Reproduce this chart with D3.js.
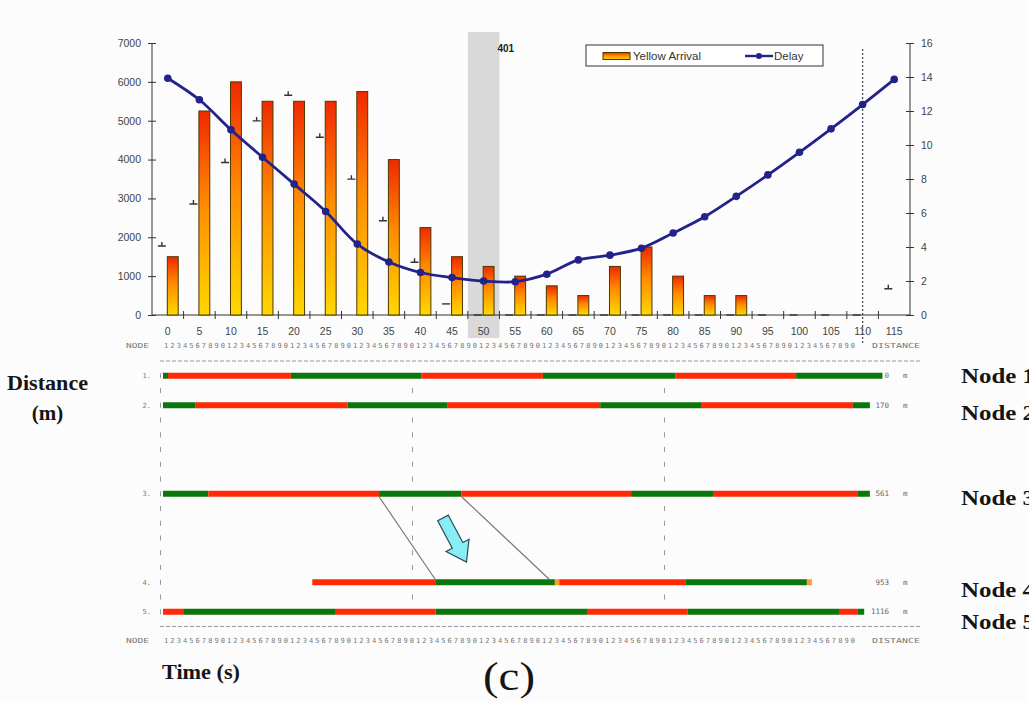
<!DOCTYPE html>
<html>
<head>
<meta charset="utf-8">
<script src="https://cdn.jsdelivr.net/npm/d3@7"></script>
<style>
  body { margin: 0; background: #fcfcfc; }
  svg { display: block; }
</style>
</head>
<body>
<svg id="chart" width="1029" height="702"></svg>
<script>
// ---- Upper panel: yellow arrivals and delay by offset (s) ----
const categories = ["0","5","10","15","20","25","30","35","40","45","50","55",
                    "60","65","70","75","80","85","90","95","100","105","110","115"];
const yellowArrival = [1500,5250,6000,5500,5500,5500,5750,4000,2250,1500,1250,1000,
                       750,500,1250,1750,1000,500,500,0,0,0,0,0];
const delay = [13.93,12.66,10.9,9.28,7.7,6.09,4.17,3.12,2.5,2.2,2.0,1.96,
               2.4,3.24,3.52,3.93,4.82,5.78,6.98,8.24,9.57,10.95,12.38,13.86];
const queueMarks = [1750,2830,3900,4970,5630,4550,3470,2400,1330,260,0,0,
                    0,0,0,0,0,0,0,0,0,0,0,650];
const leftTicks = [0,1000,2000,3000,4000,5000,6000,7000];
const rightTicks = [0,2,4,6,8,10,12,14,16];
const highlightCategory = "50";
const highlightLabel = "401";
const cycleMarkCategory = "110";
const legendLabels = ["Yellow Arrival","Delay"];

// ---- Lower panel: time-space diagram ----
const nodeIds = ["1.","2.","3.","4.","5."];
const nodeNames = ["Node 1","Node 2","Node 3","Node 4","Node 5"];
const nodeDistance = [0,170,561,953,1116];
// signal states per node: [start s, end s, state]  G = green, R = red, A = amber
const signalPhases = [
  [[0,0.8,"G"],[0.8,20.3,"R"],[20.3,41,"G"],[41,60.3,"R"],[60.3,81.3,"G"],[81.3,100.5,"R"],[100.5,114.2,"G"]],
  [[0,5.1,"G"],[5.1,29.3,"R"],[29.3,45.2,"G"],[45.2,69.4,"R"],[69.4,85.4,"G"],[85.4,109.5,"R"],[109.5,112.2,"G"]],
  [[0,7.2,"G"],[7.2,34.3,"R"],[34.3,47.4,"G"],[47.4,74.3,"R"],[74.3,87.3,"G"],[87.3,110.3,"R"],[110.3,112.2,"G"]],
  [[23.7,43.2,"R"],[43.2,62.2,"G"],[62.2,62.9,"A"],[62.9,83,"R"],[83,102.2,"G"],[102.2,103,"A"]],
  [[0,3.2,"R"],[3.2,27.3,"G"],[27.3,43.3,"R"],[43.3,67.3,"G"],[67.3,83.3,"R"],[83.3,107.3,"G"],[107.3,110.2,"R"],[110.2,111.3,"G"]]
];
// green-wave band edges between node 3 and node 4: [time at node 3, time at node 4]
const bandFrom = 2, bandTo = 3;
const bandEdges = [[34.3,43.2],[47.4,61.3]];
const gridTimes = [0,40,80];
const rulerLength = 110;      // seconds shown on the NODE ruler
const metresPerRow = 70;      // distance covered by one text row of the diagram
const totalRows = 18;

const svg = d3.select("#chart");
const defs = svg.append("defs");
const grad = defs.append("linearGradient").attr("id","arrivalFill")
  .attr("x1",0).attr("y1",0).attr("x2",0).attr("y2",1);
grad.append("stop").attr("offset","0%").attr("stop-color","#f02800");
grad.append("stop").attr("offset","45%").attr("stop-color","#ff8a00");
grad.append("stop").attr("offset","100%").attr("stop-color","#ffd800");

const sans = "'Liberation Sans', Arial, sans-serif";
const serif = "'Liberation Serif', 'Times New Roman', serif";

// ===== Upper chart =====
const x = d3.scaleBand().domain(categories).range([152, 910]).padding(0);
const bw = x.bandwidth();
const xs = d3.scaleBand().domain(["queue","arrival"]).range([bw*0.14, bw*0.83]);
const yL = d3.scaleLinear().domain([0,7000]).range([315, 43]);
const yR = d3.scaleLinear().domain([0,16]).range([315, 43]);

// highlighted offset column
svg.append("rect")
  .attr("x", x(highlightCategory)).attr("width", bw)
  .attr("y", yL(7000) - 11).attr("height", yL(0) - yL(7000) + 34)
  .attr("fill", "#d9d9d9");
svg.append("text").text(highlightLabel)
  .attr("x", x(highlightCategory) + bw - 2).attr("y", 52)
  .attr("font-family", sans).attr("font-size", 10).attr("font-weight", "bold")
  .attr("fill", "#222");

// cycle marker (dotted)
svg.append("line")
  .attr("x1", x(cycleMarkCategory) + bw/2).attr("x2", x(cycleMarkCategory) + bw/2)
  .attr("y1", 49).attr("y2", 344)
  .attr("stroke", "#444").attr("stroke-width", 1.2).attr("stroke-dasharray", "2,2");

// left axis
const gL = svg.append("g").attr("transform", "translate(152,0)")
  .call(d3.axisLeft(yL).tickValues(leftTicks).tickFormat(d3.format("d")).tickSize(4).tickPadding(7));
gL.selectAll(".tick line").attr("x1", -4).attr("x2", 4).attr("stroke", "#333");
gL.select(".domain").attr("stroke", "#333").attr("d", `M0,${yL(7000)}V${yL(0)}`);
gL.selectAll("text").attr("font-family", sans).attr("font-size", 10.5).attr("fill", "#444");

// right axis
const gR = svg.append("g").attr("transform", "translate(910,0)")
  .call(d3.axisRight(yR).tickValues(rightTicks).tickSize(4).tickPadding(7));
gR.selectAll(".tick line").attr("x1", -4).attr("x2", 4).attr("stroke", "#333");
gR.select(".domain").attr("stroke", "#333").attr("d", `M0,${yR(16)}V${yR(0)}`);
gR.selectAll("text").attr("font-family", sans).attr("font-size", 10.5).attr("fill", "#444");

// bottom axis: line, boundary ticks, category labels
svg.append("line").attr("x1", 152).attr("x2", 910).attr("y1", yL(0)).attr("y2", yL(0))
  .attr("stroke", "#333").attr("stroke-width", 1.2);
const edges = categories.map(c => x(c)).concat([x(categories[categories.length-1]) + bw]);
svg.append("g").selectAll("line").data(edges.slice(1, -1)).join("line")
  .attr("x1", d => d).attr("x2", d => d)
  .attr("y1", yL(0) - 4).attr("y2", yL(0) + 4).attr("stroke", "#333");
svg.append("g").selectAll("text").data(categories).join("text")
  .attr("x", d => x(d) + bw/2).attr("y", 334.5)
  .attr("text-anchor", "middle").attr("font-family", sans).attr("font-size", 10.5)
  .attr("fill", "#444").text(d => d);

// arrival bars
svg.append("g").selectAll("rect").data(yellowArrival.map((v,i) => ({c: categories[i], v})))
  .join("rect")
  .attr("x", d => x(d.c) + xs("arrival")).attr("width", xs.bandwidth())
  .attr("y", d => yL(d.v)).attr("height", d => yL(0) - yL(d.v))
  .attr("fill", "url(#arrivalFill)").attr("stroke", "#4a3800").attr("stroke-width", 1)
  .attr("display", d => d.v > 0 ? null : "none");

// queue marks
const qm = svg.append("g").attr("stroke", "#333").attr("stroke-width", 1.4).attr("fill", "none");
queueMarks.forEach((v, i) => {
  const cx = x(categories[i]) + xs("queue") + xs.bandwidth()/2;
  const cy = yL(v) - (v > 0 ? 1 : 0);
  qm.append("path").attr("d", `M${cx-4},${cy}H${cx+4}` + (v > 0 && i !== 9 ? `M${cx},${cy}V${cy-4}` : ""));
});

// delay line
const delayPts = delay.map((v, i) => [x(categories[i]) + bw/2, yR(v)]);
svg.append("path").datum(delayPts)
  .attr("d", d3.line().curve(d3.curveCatmullRom.alpha(0.5)))
  .attr("fill", "none").attr("stroke", "#22228a").attr("stroke-width", 2.8);
svg.append("g").selectAll("circle").data(delayPts).join("circle")
  .attr("cx", d => d[0]).attr("cy", d => d[1]).attr("r", 3.8).attr("fill", "#22228a");

// legend
const lg = svg.append("g").attr("transform", "translate(586,45)");
lg.append("rect").attr("width", 237).attr("height", 21).attr("fill", "#fff")
  .attr("stroke", "#333").attr("stroke-width", 1);
lg.append("rect").attr("x", 17).attr("y", 7.5).attr("width", 27).attr("height", 7)
  .attr("fill", "url(#arrivalFill)").attr("stroke", "#4a3800");
lg.append("text").attr("x", 47).attr("y", 15).text(legendLabels[0])
  .attr("font-family", sans).attr("font-size", 11.5).attr("fill", "#333");
lg.append("line").attr("x1", 159).attr("x2", 187).attr("y1", 11).attr("y2", 11)
  .attr("stroke", "#22228a").attr("stroke-width", 2.4);
lg.append("circle").attr("cx", 173).attr("cy", 11).attr("r", 3).attr("fill", "#22228a");
lg.append("text").attr("x", 188).attr("y", 15).text(legendLabels[1])
  .attr("font-family", sans).attr("font-size", 11.5).attr("fill", "#333");

// ===== Lower time-space diagram =====
const t = d3.scaleLinear().domain([0, 115]).range([163, 887.5]);
const row = d3.scaleLinear().domain([0, 1]).range([361, 375.75]);
const nodeRow = d => 1 + Math.round(d / metresPerRow);
const nodeRows = nodeDistance.map(nodeRow);
const tiny = "'DejaVu Sans Mono', monospace";

// NODE rulers (above and below)
[-1, totalRows + 1].forEach(r => {
  const y = row(r) + 2;
  svg.append("text").text("NODE").attr("x", 126).attr("y", y)
    .attr("font-family", tiny).attr("font-size", 7).attr("fill", "#777")
    .attr("textLength", 23).attr("lengthAdjust", "spacingAndGlyphs");
  svg.append("g").selectAll("text").data(d3.range(1, rulerLength + 1)).join("text")
    .attr("x", d => t(d - 0.5)).attr("y", y).attr("text-anchor", "middle")
    .attr("font-family", tiny).attr("font-size", 7).attr("fill", "#777")
    .text(d => d % 10);
  svg.append("text").text("DISTANCE").attr("x", 872).attr("y", y)
    .attr("font-family", tiny).attr("font-size", 7).attr("fill", "#777")
    .attr("textLength", 48).attr("lengthAdjust", "spacingAndGlyphs");
});

// dashed frame lines
[0, totalRows].forEach(r => {
  svg.append("line").attr("x1", 160).attr("x2", 921).attr("y1", row(r)).attr("y2", row(r))
    .attr("stroke", "#9a9a9a").attr("stroke-width", 1).attr("stroke-dasharray", "4,2");
});

// grid marks in the character grid
const gm = svg.append("g").attr("stroke", "#999").attr("stroke-width", 1);
gridTimes.forEach(gt => {
  d3.range(1, totalRows).forEach(r => {
    if (gt > 0 && (nodeRows.includes(r) || r === 1)) return;
    const gx = t(gt) - 2.5;
    gm.append("line").attr("x1", gx).attr("x2", gx)
      .attr("y1", row(r) - 2.5).attr("y2", row(r) + 2.5);
  });
});

// green-wave band edges
bandEdges.forEach(([a, b]) => {
  svg.append("line")
    .attr("x1", t(a)).attr("y1", row(nodeRows[bandFrom]) + 3)
    .attr("x2", t(b)).attr("y2", row(nodeRows[bandTo]) - 3)
    .attr("stroke", "#7a7a7a").attr("stroke-width", 1.2);
});

// signal bars
const phaseColour = {G: "#0b760b", R: "#ff2a05", A: "#ff9a30"};
signalPhases.forEach((phases, n) => {
  const y = row(nodeRows[n]);
  svg.append("g").selectAll("rect").data(phases).join("rect")
    .attr("x", d => t(d[0])).attr("width", d => t(d[1]) - t(d[0]))
    .attr("y", y - 3).attr("height", 6)
    .attr("fill", d => phaseColour[d[2]]);
  svg.append("text").text(nodeIds[n]).attr("x", 151).attr("y", y + 2.5)
    .attr("text-anchor", "end").attr("font-family", tiny).attr("font-size", 7).attr("fill", "#777");
  svg.append("text").text(nodeDistance[n]).attr("x", 889).attr("y", y + 2.5)
    .attr("text-anchor", "end").attr("font-family", tiny).attr("font-size", 7.5).attr("fill", "#666");
  svg.append("text").text("m").attr("x", 903).attr("y", y + 2.5)
    .attr("font-family", tiny).attr("font-size", 7.5).attr("fill", "#666");
  svg.append("text").text(nodeNames[n]).attr("x", 961).attr("y", [383, 420, 505, 597, 629][n])
    .attr("font-family", serif).attr("font-size", 21).attr("font-weight", "bold").attr("fill", "#151515")
    .attr("textLength", 74).attr("lengthAdjust", "spacingAndGlyphs");
});

// direction arrow
const ar = svg.append("g").attr("transform", "translate(443,518) rotate(62)");
ar.append("path")
  .attr("d", "M0,-6L31,-6L31,-13L50,0L31,13L31,6L0,6Z")
  .attr("fill", "#88eef6").attr("stroke", "#2b4a55").attr("stroke-width", 1.2)
  .attr("stroke-linejoin", "miter");

// axis titles
svg.append("text").text("Distance").attr("x", 7).attr("y", 390)
  .attr("font-family", serif).attr("font-size", 21).attr("font-weight", "bold").attr("fill", "#151515")
  .attr("textLength", 81).attr("lengthAdjust", "spacingAndGlyphs");
svg.append("text").text("(m)").attr("x", 47.5).attr("y", 420).attr("text-anchor", "middle")
  .attr("font-family", serif).attr("font-size", 21).attr("font-weight", "bold").attr("fill", "#151515");
svg.append("text").text("Time (s)").attr("x", 162).attr("y", 679)
  .attr("font-family", serif).attr("font-size", 21).attr("font-weight", "bold").attr("fill", "#151515")
  .attr("textLength", 78).attr("lengthAdjust", "spacingAndGlyphs");
svg.append("text").text("(c)").attr("x", 483).attr("y", 690)
  .attr("font-family", serif).attr("font-size", 40).attr("fill", "#151515")
  .attr("textLength", 52).attr("lengthAdjust", "spacingAndGlyphs");
</script>
</body>
</html>
